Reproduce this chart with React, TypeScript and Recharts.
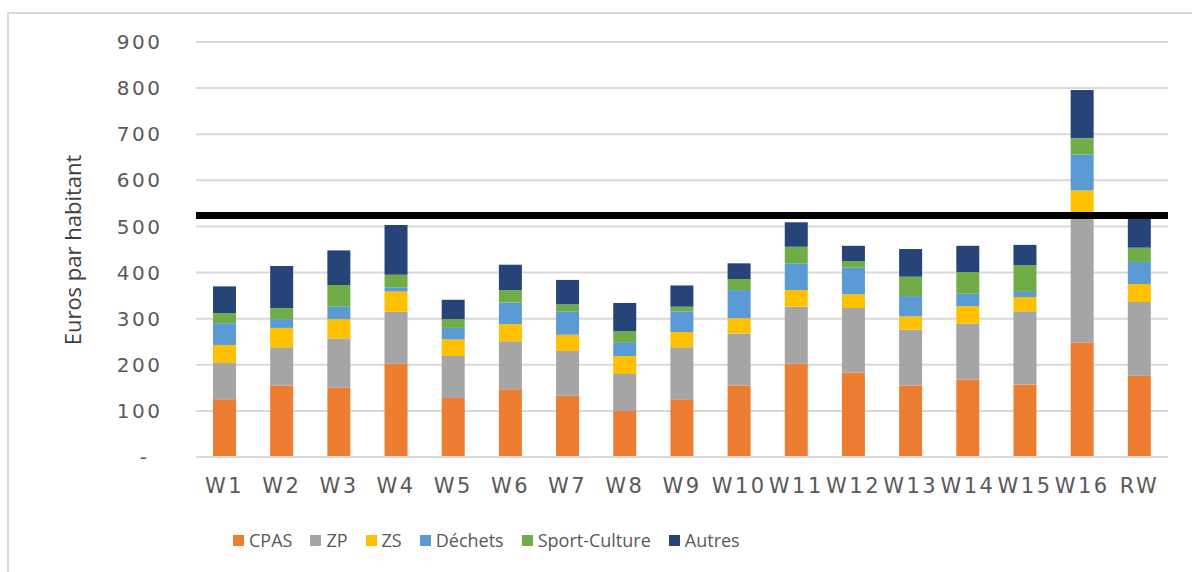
import React from 'react';
import { BarChart, Bar, XAxis, YAxis, CartesianGrid, Legend, ReferenceLine } from 'recharts';

const categories = ['W1','W2','W3','W4','W5','W6','W7','W8','W9','W10','W11','W12','W13','W14','W15','W16','RW'];
const cpas = [125,155,150,202,128,147,133,100,125,155,202,183,155,168,157,248,176];
const zp = [79,83,107,113,91,104,97,80,113,113,124,140,121,121,159,272,160];
const zs = [39,42,42,44,36,37,35,39,33,33,36,30,29,38,31,58,39];
const dechets = [47,19,27,9,25,47,51,30,45,61,58,58,44,27,11,78,48];
const sport = [22,24,47,27,19,27,15,24,10,24,36,14,42,47,58,35,31];
const autres = [58,91,75,108,42,55,53,61,46,34,53,33,60,57,44,105,64];
const yTicks = [0,100,200,300,400,500,600,700,800,900];
const threshold = 524;

const seriesNames = ['CPAS','ZP','ZS','Déchets','Sport-Culture','Autres'];
const seriesColors = ['#ED7D31','#A5A5A5','#FFC000','#5B9BD5','#70AD47','#264478'];
const seriesKeys = ['cpas','zp','zs','dechets','sport','autres'];

const data = categories.map((c, i) => ({
  name: c,
  cpas: cpas[i],
  zp: zp[i],
  zs: zs[i],
  dechets: dechets[i],
  sport: sport[i],
  autres: autres[i],
}));

const YTick = (props: any) => {
  const { x, y, payload } = props;
  const isZero = payload.value === 0;
  return (
    <text x={isZero ? x - 13 : x} y={y} dy="0.355em" textAnchor="end" fill="#595959"
      fontSize={20} letterSpacing={2.5} fontFamily="DejaVu Sans">
      {isZero ? '-' : payload.value}
    </text>
  );
};

const YTitle = () => (
  <text x={72} y={250} transform="rotate(-90, 72, 250)" textAnchor="middle" dominantBaseline="central"
    fill="#404040" fontSize={22} fontFamily="Open Sans">
    Euros par habitant
  </text>
);

const LegendContent = () => (
  <div style={{ display: 'flex', alignItems: 'center', fontFamily: 'Open Sans', fontSize: 18, color: '#595959', whiteSpace: 'nowrap' }}>
    {seriesNames.map((n, i) => (
      <div key={n} style={{ display: 'flex', alignItems: 'center', marginRight: 18 }}>
        <div style={{ width: 11, height: 11, background: seriesColors[i], marginRight: 5 }} />
        <span>{n}</span>
      </div>
    ))}
  </div>
);

export default function App() {
  return (
    <div style={{ position: 'fixed', left: 0, top: 0, width: 1192, height: 572, overflow: 'hidden', background: '#fff' }}>
      <div style={{ position: 'absolute', left: 7, top: 12, width: 1185, height: 560, borderTop: '2px solid #d9d9d9', borderLeft: '2px solid #d9d9d9', boxSizing: 'border-box' }} />
      <div style={{ position: 'absolute', left: 0, top: 0 }}>
        <BarChart width={1192} height={572} data={data}
          margin={{ top: 42, right: 24, bottom: 85, left: 0 }}
          barSize={23}
          style={{ fontFamily: 'DejaVu Sans' }}>
          <CartesianGrid vertical={false} stroke="#d9d9d9" strokeWidth={2} />
          <XAxis dataKey="name" interval={0} tickLine={false} axisLine={{ stroke: '#d9d9d9', strokeWidth: 2 }} height={30}
            tickMargin={15} tick={{ fill: '#595959', fontSize: 21, letterSpacing: 2.5, fontFamily: 'DejaVu Sans' }} />
          <YAxis width={196} domain={[0, 900]} ticks={yTicks} interval={0} axisLine={false} tickLine={false}
            tickMargin={27.5} tick={<YTick />} label={<YTitle />} />
          {seriesKeys.map((k, i) => (
            <Bar key={k} dataKey={k} name={seriesNames[i]} stackId="a" fill={seriesColors[i]} isAnimationActive={false} />
          ))}
          <ReferenceLine y={threshold} stroke="#000" strokeWidth={7} ifOverflow="extendDomain" />
          <Legend layout="vertical" verticalAlign="middle" align="center" content={<LegendContent />}
            wrapperStyle={{ position: 'absolute', left: 233, top: 528, width: 'auto' }} />
        </BarChart>
      </div>
    </div>
  );
}
